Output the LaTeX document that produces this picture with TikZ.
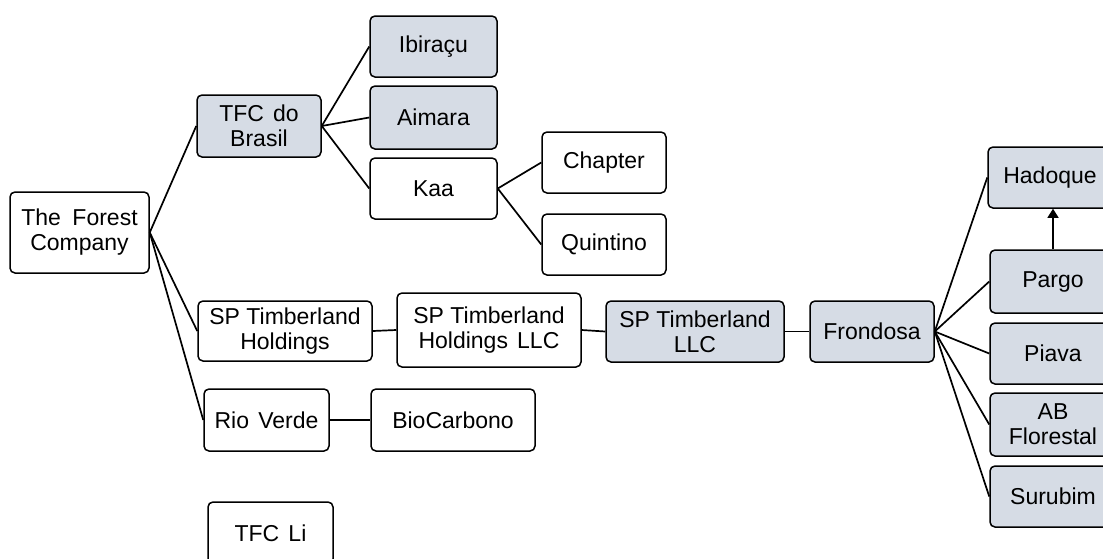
\documentclass[tikz,border=0pt]{standalone}
\usepackage{fontspec}
\setmainfont{Liberation Sans}
\usetikzlibrary{arrows.meta}
\definecolor{boxblue}{RGB}{214,220,229}
\newcommand\ws{\hspace{0.4em}}
\begin{document}
\begin{tikzpicture}[x=1pt,y=-1pt,
  box/.style={draw=black, line width=1.5pt, rounded corners=5pt, fill=white,
    align=center, inner sep=0pt, font=\fontsize{23}{25}\selectfont},
  bluebox/.style={box, fill=boxblue},
  conn/.style={draw=black, line width=1.7pt}]
\useasboundingbox (0,0) rectangle (1103,558);
\clip (0,0) rectangle (1103,558);
\node[box, minimum width=139, minimum height=81] (tfco) at (79.5,232.5) {The\hspace{0.5em}Forest\\Company};
\node[bluebox, minimum width=124, minimum height=62] (tfcb) at (259,126) {TFC\ws do\\Brasil};
\node[bluebox, minimum width=127, minimum height=61] (ibi) at (433.5,46.5) {Ibiraçu};
\node[bluebox, minimum width=127, minimum height=63] (aim) at (433.5,117.5) {Aimara};
\node[box, minimum width=127, minimum height=61] (kaa) at (433.5,188.5) {Kaa};
\node[box, minimum width=124, minimum height=61] (chap) at (604,162.5) {Chapter};
\node[box, minimum width=124, minimum height=61] (quin) at (604,244.5) {Quintino};
\node[box, minimum width=174, minimum height=60] (spth) at (285,331) {SP Timberland\\Holdings};
\node[box, minimum width=184, minimum height=74] (spthl) at (489,330) {SP Timberland\\Holdings\ws LLC};
\node[bluebox, minimum width=178, minimum height=61] (sptl) at (695,331.5) {SP Timberland\\LLC};
\node[bluebox, minimum width=124, minimum height=61] (frond) at (872,331.5) {Frondosa};
\node[box, minimum width=125, minimum height=62] (riov) at (266.5,420) {Rio\ws Verde};
\node[box, minimum width=164, minimum height=62] (bio) at (453,420) {BioCarbono};
\node[box, minimum width=125, minimum height=62] (tfcli) at (270.5,533) {TFC\ws Li};
\node[bluebox, minimum width=124, minimum height=61] (had) at (1050,177.5) {Hadoque};
\node[bluebox, minimum width=126, minimum height=63] (pargo) at (1053,281.5) {Pargo};
\node[bluebox, minimum width=126, minimum height=61] (piava) at (1053,353.5) {Piava};
\node[bluebox, minimum width=126, minimum height=63] (abf) at (1053,424.5) {AB\\Florestal};
\node[bluebox, minimum width=126, minimum height=61] (surub) at (1053,496.5) {Surubim};
\draw[conn] (tfco.east) -- (tfcb.west);
\draw[conn] (tfco.east) -- (spth.west);
\draw[conn] (tfco.east) -- (riov.west);
\draw[conn] (tfcb.east) -- (ibi.west);
\draw[conn] (tfcb.east) -- (aim.west);
\draw[conn] (tfcb.east) -- (kaa.west);
\draw[conn] (kaa.east) -- (chap.west);
\draw[conn] (kaa.east) -- (quin.west);
\draw[conn] (spth.east) -- (spthl.west);
\draw[conn] (spthl.east) -- (sptl.west);
\draw[conn] (sptl.east) -- (frond.west);
\draw[conn] (riov.east) -- (bio.west);
\draw[conn] (frond.east) -- (had.west);
\draw[conn] (frond.east) -- (pargo.west);
\draw[conn] (frond.east) -- (piava.west);
\draw[conn] (frond.east) -- (abf.west);
\draw[conn] (frond.east) -- (surub.west);
\draw[line width=1.3pt, -{Triangle[length=9pt,width=11pt]}] (pargo.north) -- (pargo.north |- had.south);
\end{tikzpicture}
\end{document}
